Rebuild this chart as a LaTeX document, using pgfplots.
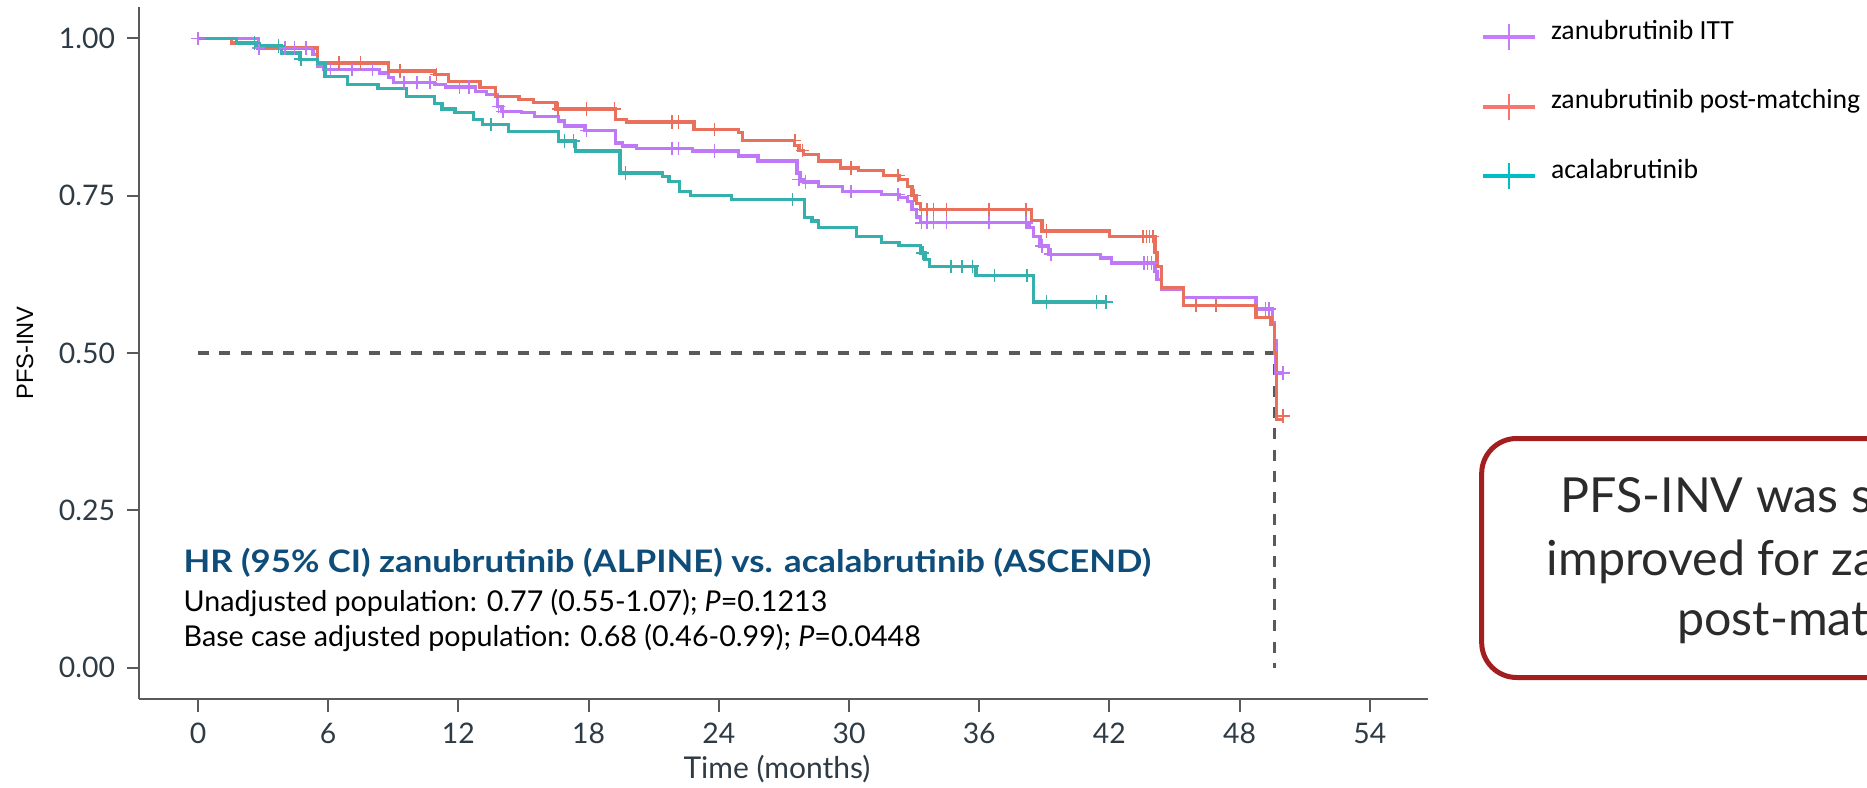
\documentclass[border=0pt]{standalone}
\usepackage{pgfplots}
\usepackage{pgfplotstable}
\pgfplotsset{compat=1.18}
\usepackage{fontspec}
\setmainfont{Lato}
\newfontfamily\carlito{Carlito}
\newfontfamily\arialish{Liberation Sans}

\definecolor{axgray}{HTML}{5A5A5A}
\definecolor{ticktext}{HTML}{2E3B45}
\definecolor{hrblue}{HTML}{0E4D7A}
\definecolor{boxred}{HTML}{A31F1F}
\definecolor{boxtext}{HTML}{2B2B2B}
\definecolor{cpur}{HTML}{BF78F7}
\definecolor{cred}{HTML}{E8705C}
\definecolor{cteal}{HTML}{35B0AC}
\definecolor{lpur}{HTML}{C77CFF}
\definecolor{lred}{HTML}{F8766D}
\definecolor{lteal}{HTML}{00BFC4}

\pgfplotsset{
  kmlegend/.style={
    legend image code/.code={
      \draw[##1, line width=1.2pt] (0pt,0.6pt) -- (15.6pt,0.6pt);
      \draw[##1, line width=0.5pt] (7.8pt,-3.35pt) -- (7.8pt,4.55pt);
    }
  },
  kmcurve/.style={const plot, line width=1pt, mark=none, forget plot},
  kmcens/.style={only marks, mark=+, mark size=2pt, mark options={line width=0.45pt}, forget plot},
}

% zanubrutinib ITT
\pgfplotstableread{
t s
0 1
2.78 0.985
5.3 0.975
5.5 0.956
5.8 0.951
8.36 0.945
8.77 0.9375
9.0 0.930
10.9 0.927
11.4 0.923
12.8 0.916
13.3 0.911
13.8 0.892
14.0 0.884
14.9 0.882
15.5 0.876
16.6 0.869
16.9 0.861
17.8 0.854
19.25 0.834
19.55 0.829
20.2 0.825
22.8 0.821
24.9 0.813
25.8 0.805
27.6 0.786
27.75 0.776
27.9 0.772
28.6 0.765
29.7 0.757
31.5 0.752
32.3 0.747
32.7 0.741
32.9 0.728
33.1 0.716
33.3 0.707
38.3 0.700
38.5 0.685
38.8 0.670
39.2 0.657
41.6 0.651
42.1 0.643
44.1 0.630
44.2 0.617
44.4 0.601
45.4 0.588
48.75 0.570
49.5 0.548
49.62 0.520
49.68 0.468
50.0 0.468
}\itt
\pgfplotstableread{
t s
0 1
2.8 0.985
4.0 0.985
4.45 0.985
4.97 0.985
6.1 0.951
7.1 0.951
8.05 0.951
9.5 0.930
10.1 0.930
10.7 0.930
12.06 0.923
12.5 0.923
13.85 0.892
14.05 0.884
17.9 0.854
21.85 0.825
22.15 0.825
23.8 0.821
27.7 0.776
28.0 0.772
30.1 0.757
32.25 0.752
33.35 0.707
33.6 0.707
33.9 0.707
34.5 0.707
36.45 0.707
38.15 0.707
38.9 0.670
39.3 0.657
43.6 0.643
43.75 0.643
43.95 0.643
49.2 0.570
49.35 0.570
50.0 0.468
}\ittcens

% zanubrutinib post-matching
\pgfplotstableread{
t s
0 1
1.55 0.993
2.75 0.985
5.5 0.961
8.77 0.948
10.9 0.943
11.55 0.932
13.0 0.922
13.7 0.908
14.8 0.903
15.45 0.898
16.5 0.888
19.25 0.871
19.75 0.867
22.85 0.855
24.9 0.851
25.1 0.838
27.5 0.830
27.7 0.822
27.9 0.816
28.6 0.805
29.6 0.794
30.45 0.790
31.6 0.782
32.3 0.776
32.7 0.765
32.9 0.750
33.1 0.738
33.3 0.728
38.4 0.711
38.9 0.694
42.0 0.685
44.1 0.660
44.2 0.638
44.4 0.604
45.4 0.576
48.75 0.556
49.45 0.545
49.6 0.500
49.71 0.394
50.0 0.394
}\pm
\pgfplotstableread{
t s
6.5 0.961
7.5 0.961
9.3 0.948
11.0 0.943
16.6 0.888
17.9 0.888
19.2 0.888
21.85 0.867
22.15 0.867
23.8 0.855
27.5 0.838
27.85 0.822
30.1 0.794
32.25 0.782
33.0 0.750
33.35 0.728
33.6 0.728
33.9 0.728
34.5 0.728
36.45 0.728
38.15 0.728
39.1 0.694
43.55 0.685
43.7 0.685
43.85 0.685
44.0 0.685
46.0 0.576
46.9 0.576
50.0 0.40
}\pmcens

% acalabrutinib
\pgfplotstableread{
t s
0 1
1.78 0.993
2.70 0.988
3.85 0.977
4.7 0.967
5.5 0.960
5.85 0.940
6.9 0.927
8.3 0.920
9.6 0.908
10.9 0.897
11.24 0.888
11.85 0.882
12.7 0.871
13.1 0.863
14.3 0.852
16.6 0.837
17.4 0.821
19.45 0.786
21.4 0.781
21.7 0.773
22.2 0.757
22.7 0.750
24.6 0.744
27.95 0.715
28.3 0.710
28.6 0.699
30.35 0.685
31.5 0.676
32.3 0.671
33.3 0.659
33.5 0.649
33.7 0.638
35.85 0.623
38.5 0.581
41.9 0.581
}\acala
\pgfplotstableread{
t s
2.6 0.993
3.7 0.988
4.75 0.967
13.5 0.863
16.9 0.837
17.3 0.837
19.7 0.786
27.4 0.744
33.4 0.659
34.7 0.638
35.2 0.638
35.7 0.638
36.7 0.623
38.2 0.623
39.1 0.581
41.4 0.581
41.85 0.581
}\acalacens

\begin{document}
\begin{tikzpicture}
\useasboundingbox (0,0) rectangle (560.1pt,236.1pt);
\clip (0,0) rectangle (560.1pt,236.1pt);
\begin{axis}[
  scale only axis, width=386.7pt, height=207.6pt,
  at={(41.82pt,26.4pt)}, anchor=south west,
  xmin=-2.7, xmax=56.7, ymin=-0.05, ymax=1.05,
  axis lines*=left,
  axis line style={draw=axgray, line width=0.6pt},
  xtick={0,6,...,54}, ytick={0,0.25,0.5,0.75,1},
  tick align=outside, major tick length=3.8pt,
  tick style={draw=axgray, line width=0.6pt},
  /pgf/number format/assume math mode=true,
  ticklabel style={font=\fontsize{8.5}{10}\selectfont, text=ticktext},
  yticklabel style={/pgf/number format/.cd, fixed, fixed zerofill, precision=2},
  xlabel={Time (months)},
  xlabel style={at={(axis description cs:0.4946,-0.1156)}, anchor=base, font=\fontsize{9}{10}\selectfont, text=ticktext, inner sep=0pt},
  ylabel={PFS-INV},
  ylabel style={at={(axis description cs:-0.0888,0.5)}, anchor=center, font=\arialish\fontsize{7.1}{8}\selectfont, inner sep=0pt},
  clip=false,
  legend style={at={(axis description cs:1.0408,0.987)}, anchor=north west, draw=none, fill=none,
    inner xsep=0pt, inner ysep=0pt, outer sep=0pt, row sep=10.25pt,
    font=\carlito\fontsize{8.3}{10}\selectfont,
    nodes={inner sep=0pt, text height=7pt, text depth=2pt},
    cells={anchor=base west},
    /tikz/every odd column/.append style={column sep=4.2pt}},
]
\addplot[draw=axgray, line width=1pt, dash pattern=on 3.3pt off 3.1pt, forget plot]
  coordinates {(0,0.5) (49.62,0.5) (49.62,0)};
\addplot[kmcurve, cpur] table {\itt};
\addplot[kmcens, cpur] table {\ittcens};
\addplot[kmcurve, cred] table {\pm};
\addplot[kmcens, cred] table {\pmcens};
\addplot[kmcurve, cteal] table {\acala};
\addplot[kmcens, cteal] table {\acalacens};
\addlegendimage{kmlegend, lpur}
\addlegendentry{zanubrutinib ITT}
\addlegendimage{kmlegend, lred}
\addlegendentry{zanubrutinib post-matching}
\addlegendimage{kmlegend, lteal}
\addlegendentry{acalabrutinib}
\end{axis}
% HR annotation
\node[anchor=base west, inner sep=0pt, text=hrblue, font=\bfseries\fontsize{9.3}{11}\selectfont] at (54.9pt,64.3pt)
  {\scalebox{1.12}[1]{HR (95\% CI) zanubrutinib (ALPINE) vs. acalabrutinib (ASCEND)}};
\node[anchor=base west, inner sep=0pt, font=\fontsize{8.6}{10}\selectfont] at (54.9pt,52.6pt)
  {Unadjusted population: 0.77 (0.55-1.07); \textit{P}=0.1213};
\node[anchor=base west, inner sep=0pt, font=\fontsize{8.6}{10}\selectfont] at (54.9pt,42.3pt)
  {Base case adjusted population: 0.68 (0.46-0.99); \textit{P}=0.0448};
% callout box
\draw[boxred, line width=1.5pt, rounded corners=10.5pt] (444.5pt,32.85pt) rectangle (700pt,104.55pt);
\node[anchor=base west, inner sep=0pt, text=boxtext, font=\fontsize{14.5}{18}\selectfont] at (468pt,82.3pt) {PFS-INV was significantly};
\node[anchor=base west, inner sep=0pt, text=boxtext, font=\fontsize{14.5}{18}\selectfont] at (463.8pt,63.6pt) {improved for zanubrutinib};
\node[anchor=base west, inner sep=0pt, text=boxtext, font=\fontsize{14.5}{18}\selectfont] at (503pt,45.6pt) {post-matching};
\end{tikzpicture}
\end{document}
